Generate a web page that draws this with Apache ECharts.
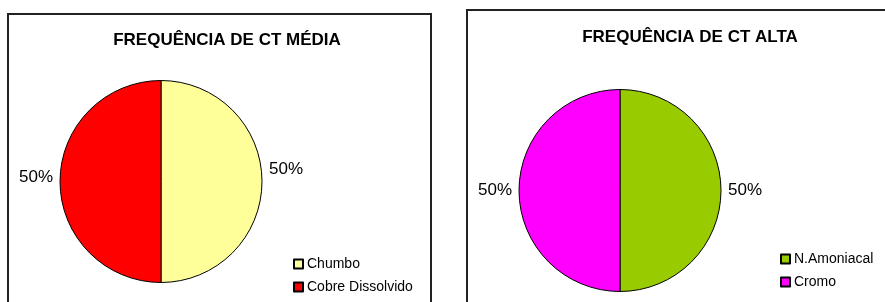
<!DOCTYPE html>
<html>
<head>
<meta charset="utf-8">
<title>Frequência de CT</title>
<script src="https://cdn.jsdelivr.net/npm/echarts@6/dist/echarts.min.js"></script>
<style>
  html, body { margin: 0; padding: 0; background: #fff; }
  #chart { width: 885px; height: 302px; }
</style>
</head>
<body>
<div id="chart"></div>
<script>
// valores
const mediaNames = ['Chumbo', 'Cobre Dissolvido'];
const mediaValues = [1, 1];
const mediaColors = ['#FFFF99', '#FF0000'];

const altaNames = ['N.Amoniacal', 'Cromo'];
const altaValues = [1, 1];
const altaColors = ['#99CC00', '#FF00FF'];

const font = 'Liberation Sans, Arial, sans-serif';

const toData = (names, values, colors, offsets) =>
  names.map((n, i) => ({
    name: n,
    value: values[i],
    itemStyle: { color: colors[i] },
    label: { offset: offsets ? offsets[i] : [0, 0] }
  }));

const pieSeries = (name, data, center) => ({
  name: name,
  type: 'pie',
  center: center,
  radius: 101,
  startAngle: 90,
  clockwise: true,
  avoidLabelOverlap: false,
  itemStyle: { borderColor: '#000', borderWidth: 1 },
  label: {
    show: true,
    position: 'outside',
    formatter: '{d}%',
    color: '#000',
    fontFamily: font,
    fontSize: 17
  },
  labelLine: { show: false, length: 2, length2: 0 },
  emphasis: { disabled: true },
  data: data
});

const legendStyle = {
  orient: 'vertical',
  padding: 0,
  icon: 'rect', itemWidth: 9, itemHeight: 9, itemGap: 9,
  textStyle: { fontFamily: font, fontSize: 14, color: '#000', padding: [0, 0, 0, -1] }
};

const myChart = echarts.init(document.getElementById('chart'));
myChart.setOption({
  animation: false,
  title: [
    {
      text: 'FREQUÊNCIA DE CT MÉDIA',
      left: 222, top: 27, textAlign: 'center',
      textStyle: { fontFamily: font, fontSize: 17, fontWeight: 'bold', color: '#000' }
    },
    {
      text: 'FREQUÊNCIA DE CT ALTA',
      left: 685, top: 24, textAlign: 'center',
      textStyle: { fontFamily: font, fontSize: 17, fontWeight: 'bold', color: '#000' }
    }
  ],
  legend: [
    Object.assign({ data: mediaNames, left: 293, top: 257 }, legendStyle),
    Object.assign({ data: altaNames, left: 780, top: 252 }, legendStyle)
  ],
  graphic: [
    {
      type: 'rect',
      shape: { x: 8, y: 14, width: 423, height: 300 },
      style: { fill: null, stroke: '#222', lineWidth: 2 }
    },
    {
      type: 'rect',
      shape: { x: 467, y: 10, width: 430, height: 300 },
      style: { fill: null, stroke: '#222', lineWidth: 2 }
    }
  ],
  series: [
    pieSeries('CT Média', toData(mediaNames, mediaValues, mediaColors, [[0, -12], [0, -4]]), [161, 181.5]),
    pieSeries('CT Alta', toData(altaNames, altaValues, altaColors), [620, 190.5])
  ]
});
</script>
</body>
</html>
